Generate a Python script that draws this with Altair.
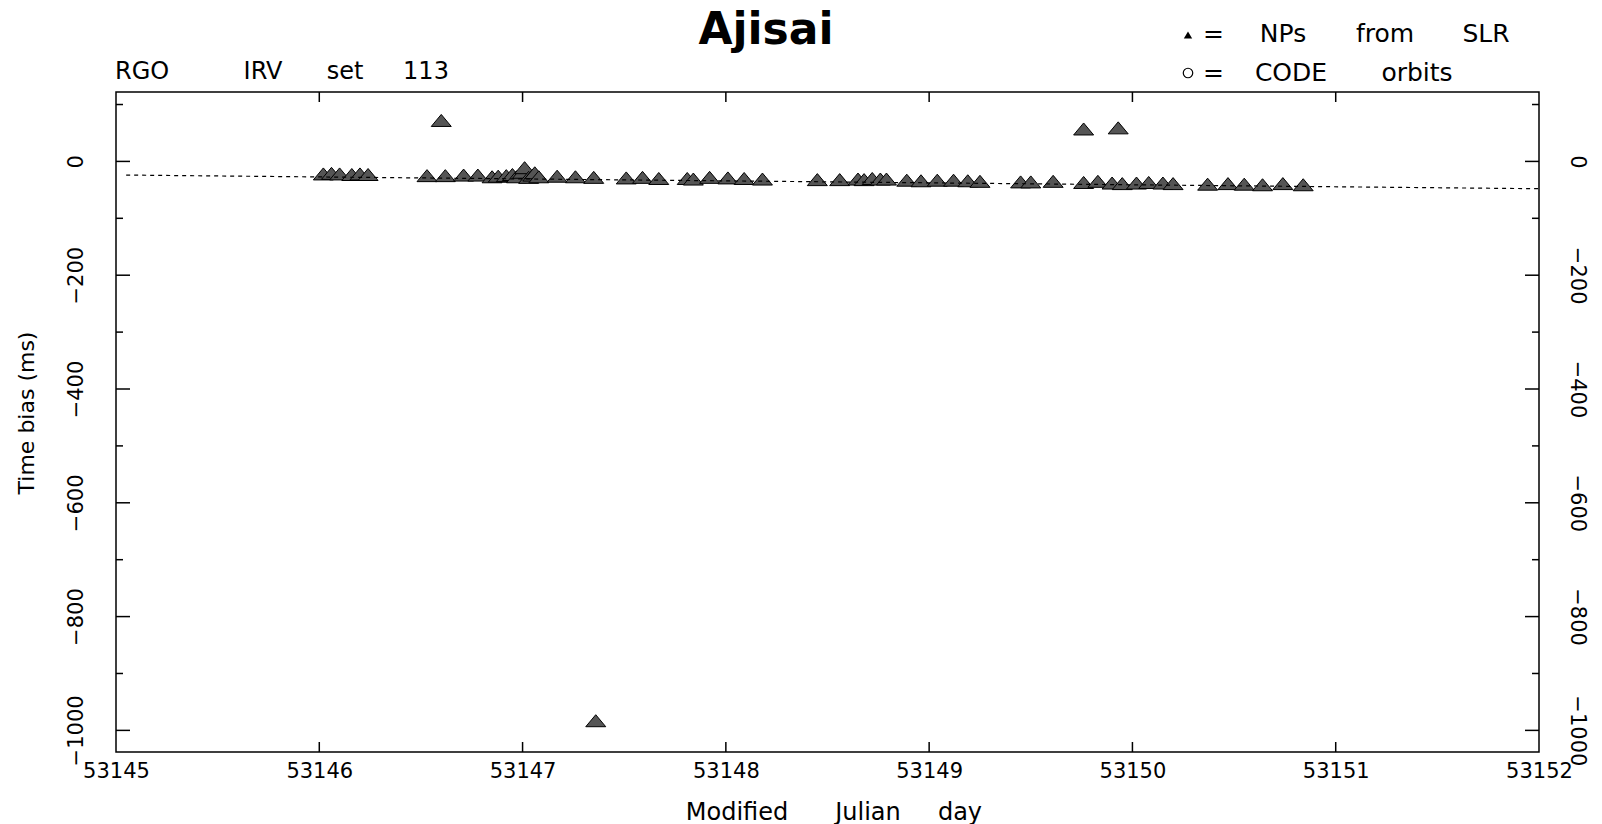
import altair as alt
import pandas as pd

# ---- data ----
mjd = [
    53146.02, 53146.06, 53146.10, 53146.16, 53146.20, 53146.24,
    53146.60,
    53146.53, 53146.62, 53146.71, 53146.78, 53146.85, 53146.88, 53146.92, 53146.95,
    53146.97, 53147.00, 53147.01, 53147.03, 53147.05, 53147.06, 53147.08, 53147.17,
    53147.26, 53147.35,
    53147.36,
    53147.51, 53147.59, 53147.67,
    53147.81, 53147.84, 53147.92, 53148.01, 53148.09, 53148.18,
    53148.45, 53148.56, 53148.65, 53148.68, 53148.72, 53148.76, 53148.79, 53148.89,
    53148.96, 53149.04, 53149.12, 53149.19, 53149.25,
    53149.45, 53149.50, 53149.61,
    53149.76, 53149.93,
    53149.76, 53149.83, 53149.90, 53149.95, 53150.02, 53150.08, 53150.15, 53150.20,
    53150.37, 53150.47, 53150.55, 53150.64, 53150.74, 53150.84,
]
bias = [
    -22, -21, -22, -23, -22, -23,
    72,
    -25, -25, -24, -24, -27, -26, -25, -23,
    -27, -19, -11, -28, -24, -20, -27, -26,
    -27, -28,
    -983,
    -29, -28, -30,
    -30, -31, -28, -29, -30, -31,
    -32, -32, -31, -32, -30, -31, -31, -33,
    -34, -33, -33, -34, -35,
    -36, -36, -35,
    57, 59,
    -37, -35, -38, -39, -38, -37, -38, -39,
    -40, -39, -40, -41, -39, -41,
]
trend_mjd = [53145.05, 53152.0]
trend_bias = [-24, -48]

x_label_values = [53145, 53146, 53147, 53148, 53149, 53150, 53151, 53152]
x_tick_values = [53146, 53147, 53148, 53149, 53150, 53151]
y_major = [0, -200, -400, -600, -800, -1000]
y_minor = [100, -100, -300, -500, -700, -900]

title_text = "Ajisai"
station_text = "RGO"
set_words = ["IRV", "set", "113"]
legend1_words = ["NPs", "from", "SLR"]
legend2_words = ["CODE", "orbits"]
xtitle_words = ["Modified", "Julian", "day"]
ytitle_text = "Time bias (ms)"

# ---- layout ----
W, H = 1423, 660
FONT = "DejaVu Sans"
xs = alt.Scale(domain=[53145, 53152], nice=False, zero=False)
ys = alt.Scale(domain=[-1038, 122], nice=False, zero=False)

common_axis = dict(ticks=False, tickSize=0, domain=False, grid=False, labelFont=FONT,
                   labelFontSize=21, labelColor="black", title=None, format="d",
                   labelFlush=False, labelOverlap=False)

x_axis = alt.Axis(orient="bottom", values=x_label_values, labelPadding=8,
                  labelBaseline="top", **common_axis)

tri = "M-1,0.6L0,-0.6L1,0.6Z"
points = alt.Chart(pd.DataFrame({"mjd": mjd, "bias": bias})).mark_point(
    shape=tri, size=400, filled=True, fill="#555555", stroke="black",
    strokeWidth=1, opacity=1, fillOpacity=1
).encode(
    x=alt.X("mjd:Q", scale=xs, axis=x_axis),
    y=alt.Y("bias:Q", scale=ys, axis=alt.Axis(orient="left", values=y_major, labelAngle=270,
                                              labelAlign="center", labelBaseline="bottom",
                                              labelPadding=30, **common_axis)),
)

trend = alt.Chart(pd.DataFrame({"mjd": trend_mjd, "bias": trend_bias})).mark_line(
    color="black", strokeWidth=1.2, strokeDash=[4, 4]
).encode(
    x=alt.X("mjd:Q", scale=xs, axis=x_axis),
    y=alt.Y("bias:Q", scale=ys, axis=alt.Axis(orient="right", values=y_major, labelAngle=90,
                                              labelAlign="center", labelBaseline="bottom",
                                              labelPadding=27, **common_axis)),
)


def yrules(vals, x0, x1):
    return alt.Chart(pd.DataFrame({"v": vals})).mark_rule(color="black", strokeWidth=1.5).encode(
        y=alt.Y("v:Q", scale=ys, axis=None), x=alt.value(x0), x2=alt.value(x1))


def xrules(vals, y0, y1):
    return alt.Chart(pd.DataFrame({"mjd": vals})).mark_rule(color="black", strokeWidth=1.5).encode(
        x=alt.X("mjd:Q", scale=xs, axis=x_axis), y=alt.value(y0), y2=alt.value(y1))


rules = [
    yrules(y_major, 0, 14), yrules(y_major, W - 14, W),
    yrules(y_minor, 0, 7), yrules(y_minor, W - 7, W),
    xrules(x_tick_values, 0, 10), xrules(x_tick_values, H - 10, H),
]


def txt(t, x, y, size=24, align="left", baseline="alphabetic", angle=0, weight="normal"):
    return alt.Chart(pd.DataFrame({"t": [t]})).mark_text(
        align=align, baseline=baseline, fontSize=size, font=FONT, angle=angle,
        fontWeight=weight, color="black"
    ).encode(text="t:N", x=alt.value(x), y=alt.value(y))


texts = [
    txt(title_text, 650, -48, size=44, align="center", weight="bold"),
    txt(station_text, -1, -13, size=24),
    txt(set_words[0], 147, -13, size=24, align="center"),
    txt(set_words[1], 229, -13, size=24, align="center"),
    txt(set_words[2], 310, -13, size=24, align="center"),
    txt("=", 1087, -50, size=25),
    txt(legend1_words[0], 1167, -50, size=25, align="center"),
    txt(legend1_words[1], 1269, -50, size=25, align="center"),
    txt(legend1_words[2], 1370, -50, size=25, align="center"),
    txt("=", 1087, -11, size=25),
    txt(legend2_words[0], 1175, -11, size=25, align="center"),
    txt(legend2_words[1], 1301, -11, size=25, align="center"),
    txt(xtitle_words[0], 621, 728, size=24, align="center"),
    txt(xtitle_words[1], 752, 728, size=24, align="center"),
    txt(xtitle_words[2], 844, 728, size=24, align="center"),
    txt(ytitle_text, -82, 321, size=22, align="center", angle=270),
]

legend_tri = alt.Chart(pd.DataFrame({"k": ["NPs from SLR"]})).mark_point(
    shape="triangle-up", size=70, filled=True, color="black", opacity=1
).encode(x=alt.value(1072), y=alt.value(-57))
legend_circ = alt.Chart(pd.DataFrame({"k": ["CODE orbits"]})).mark_point(
    shape="circle", size=90, filled=False, color="black", strokeWidth=1.2, opacity=1
).encode(x=alt.value(1072), y=alt.value(-19))

chart = alt.layer(points, trend, *rules, *texts, legend_tri, legend_circ).properties(
    width=W, height=H,
    padding={"left": 108, "top": 84, "right": 55, "bottom": 74},
    autosize=alt.AutoSizeParams(type="none"),
).configure_view(stroke="black", strokeWidth=1.5)

chart.save("out.html", embed_options={"renderer": "svg", "actions": False})
